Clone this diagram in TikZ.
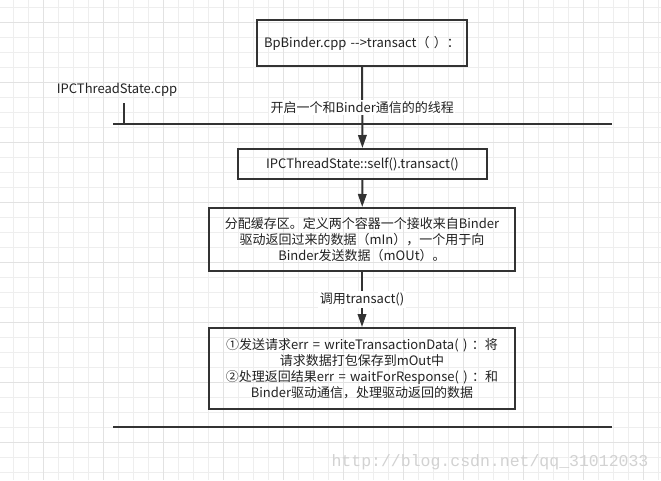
\documentclass[tikz,border=0pt]{standalone}
\usepackage{fontspec}
\setmainfont{Noto Sans CJK SC}[Ligatures=NoCommon, WordSpace=1.5]
\newfontfamily\wmfont{Liberation Mono}
\usetikzlibrary{arrows.meta}
\definecolor{gridminor}{HTML}{EEEEEE}
\definecolor{gridmajor}{HTML}{E2E2E2}
\definecolor{ink}{HTML}{333333}
\definecolor{txt}{HTML}{222222}
\definecolor{wm}{HTML}{D2D2D2}
\tikzset{
  boxnode/.style={draw=ink, line width=2pt, rectangle, inner sep=0pt, align=center,
    font=\fontsize{13}{16}\selectfont, text=txt},
  arr/.style={draw=ink, line width=2pt, -{Triangle[length=13pt,width=8.5pt]}},
  plainline/.style={draw=ink, line width=2pt},
  lbl/.style={fill=white, inner sep=1.5pt, font=\fontsize{13}{16}\selectfont, text=txt},
  freetext/.style={inner sep=0pt, font=\fontsize{13}{16}\selectfont, text=txt},
}
\begin{document}
\begin{tikzpicture}[x=1pt,y=-1pt]
\useasboundingbox (0,0) rectangle (661,480);
\fill[white] (0,0) rectangle (661,480);
% grid
\foreach \k in {0,...,43} {\draw[gridminor, line width=1pt] ({13.33+15*\k},0) -- ({13.33+15*\k},480);}
\foreach \k in {0,...,31} {\draw[gridminor, line width=1pt] (0,{7.33+15*\k}) -- (661,{7.33+15*\k});}
\foreach \k in {0,...,10} {\draw[gridmajor, line width=1pt] ({43.33+60*\k},0) -- ({43.33+60*\k},480);}
\foreach \k in {0,...,7} {\draw[gridmajor, line width=1pt] (0,{22.33+60*\k}) -- (661,{22.33+60*\k});}

% boxes
\node[boxnode, minimum width=210pt, minimum height=46pt] (b1) at (362,43) {BpBinder.cpp -{}->transact（ ）：};
\node[boxnode, minimum width=249pt, minimum height=30pt] (b2) at (362.5,164) {IPCThreadState::self().transact()};
\node[boxnode, minimum width=306pt, minimum height=63pt] (b3) at (362,239.5) {分配缓存区。定义两个容器一个接收来自Binder\\驱动返回过来的数据（mIn），一个用于向\\Binder发送数据（mOUt）。};
\node[boxnode, minimum width=306pt, minimum height=81pt] (b4) at (362,368.5) {①发送请求err = writeTransactionData( ) ：将\\请求数据打包保存到mOut中\\②处理返回结果err = waitForResponse( ) ：和\\Binder驱动通信，处理驱动返回的数据};

% swimlane lines
\coordinate (tl) at (113,124);
\coordinate (tr) at (612,124);
\coordinate (bl) at (113,427);
\coordinate (br) at (612,427);
\coordinate (tickt) at (124,103);
\coordinate (tickb) at (124,124);
\draw[plainline] (tl) -- (tr);
\draw[plainline] (bl) -- (br);
\draw[plainline] (tickt) -- (tickb);
\node[freetext] (lane) at (117,90) {IPCThreadState.cpp};

% connectors
\draw[arr] (b1) -- node[lbl, pos=0.5] (l1) {开启一个和Binder通信的的线程} (b2);
\draw[arr] (b2) -- (b3);
\draw[arr] (b3) -- node[lbl, pos=0.5] (l2) {调用transact()} (b4);

% watermark
\node[inner sep=0pt, text=wm, font=\wmfont\fontsize{16.5}{18}\selectfont] (wmk) at (490,462) {http://blog.csdn.net/qq\_31012033};
\end{tikzpicture}
\end{document}
